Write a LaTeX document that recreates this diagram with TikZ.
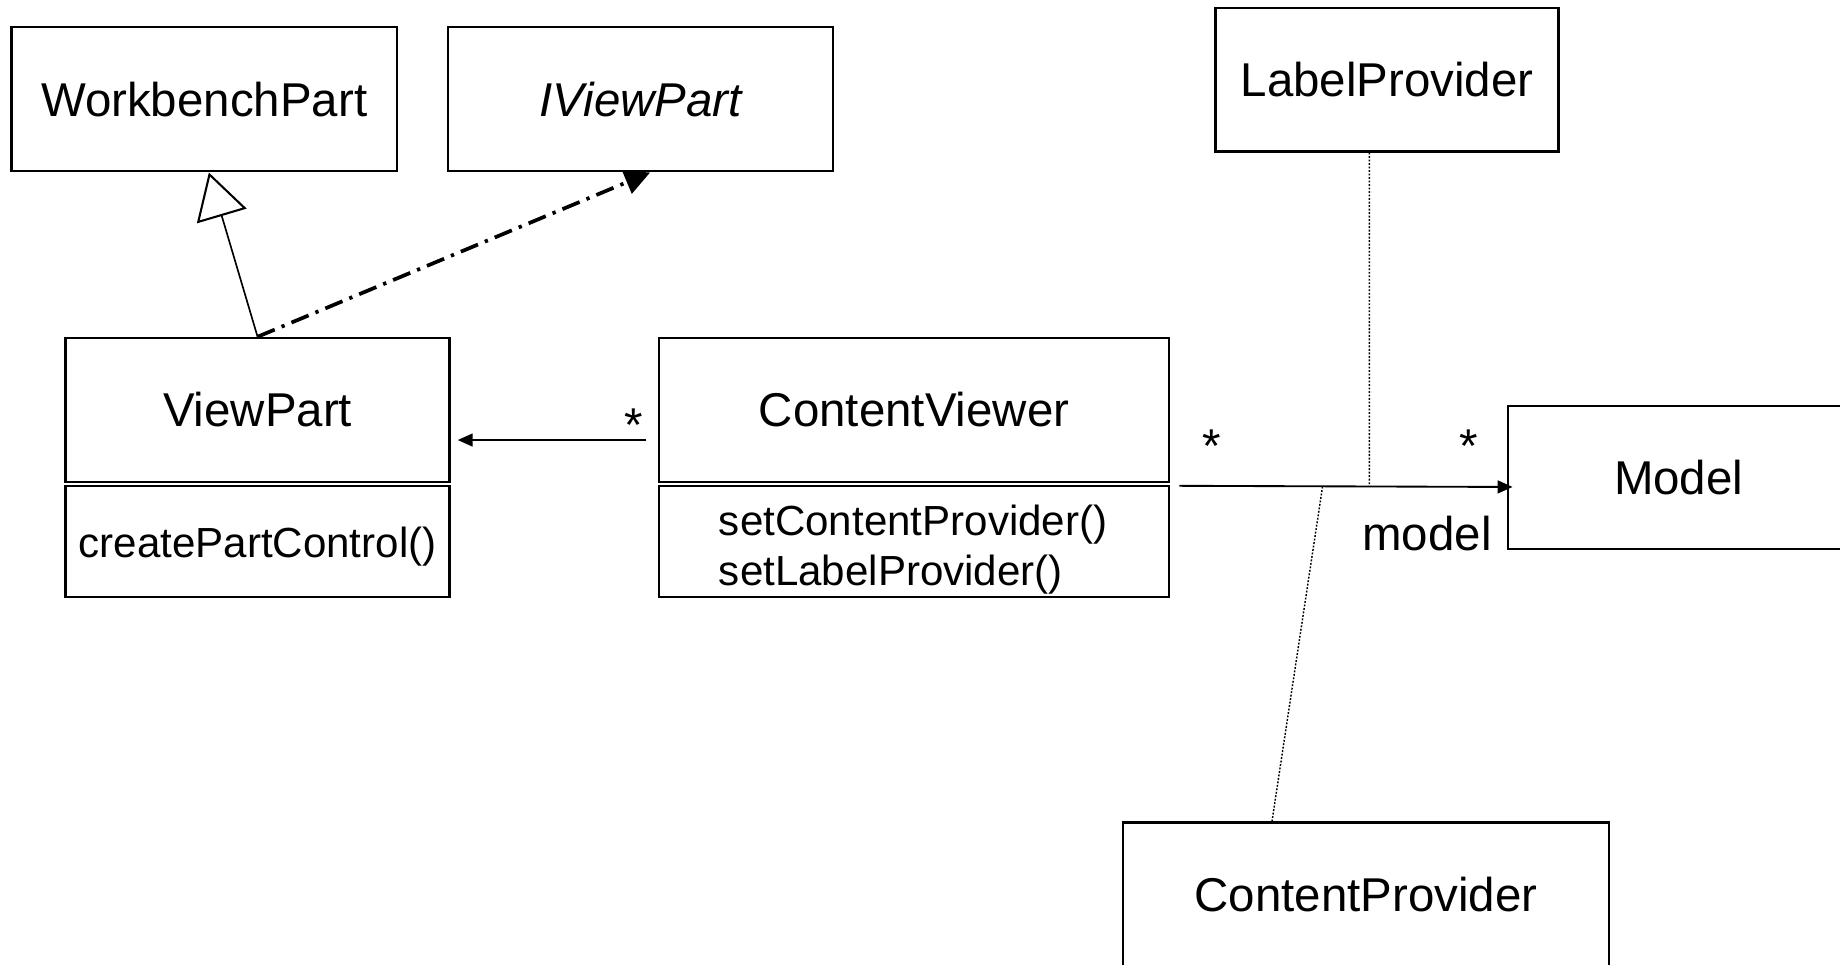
\documentclass[tikz,border=0pt]{standalone}
\usepackage{fontspec}
\setmainfont{Liberation Sans}
\usetikzlibrary{arrows.meta,calc}
\newcommand\clsfont{\fontsize{11.5pt}{13.8pt}\selectfont}
\newcommand\methfont{\fontsize{10.2pt}{12.1pt}\selectfont}
\begin{document}
\begin{tikzpicture}[x=0.01cm,y=-0.01cm,
 box/.style={draw,line width=0.55pt,inner sep=0pt,font=\clsfont},
 gen/.style={line width=0.4pt,-{Triangle[open,length=11pt,width=12.5pt,line width=0.5pt]}},
 real/.style={line width=0.9pt,dash pattern=on 4.5pt off 1.8pt on 0.8pt off 1.8pt,-{Triangle[length=6.1pt,width=5.9pt]}},
 assoc/.style={line width=0.45pt,-{Triangle[length=3.6pt,width=3.1pt]}},
 attach/.style={line width=0.35pt,dash pattern=on 0.45pt off 0.4pt},
 lbl/.style={font=\clsfont,inner sep=0pt}]
\useasboundingbox (0,0) rectangle (1568,822);
\clip (0,0) rectangle (1568,822);
\fill[white] (0,0) rectangle (1568,822);

\node[box,minimum width=3.28cm,minimum height=1.23cm] (WB) at (174,84.5) {WorkbenchPart};
\node[box,minimum width=3.28cm,minimum height=1.23cm] (IVP) at (546,84.5) {\itshape IViewPart};
\node[box,minimum width=2.92cm,minimum height=1.22cm] (LP) at (1182,68) {LabelProvider};
\node[box,minimum width=3.27cm,minimum height=1.225cm] (VP) at (219.5,349.25) {ViewPart};
\node[box,minimum width=3.27cm,minimum height=0.945cm,font=\methfont,text height=10pt,text depth=2.2pt] (VPm) at (219.5,461.75) {createPartControl()};
\node[box,minimum width=4.34cm,minimum height=1.225cm] (CV) at (779,349.25) {ContentViewer};
\node[box,minimum width=4.34cm,minimum height=0.945cm] (CVm) at (779,461.75) {};
\node[inner sep=0pt,font=\methfont,align=left,anchor=west] (CVmt) at (612,468) {setContentProvider()\\setLabelProvider()};
\node[box,minimum width=2.91cm,minimum height=1.22cm] (M) at (1430.5,407) {Model};
\node[box,minimum width=4.14cm,minimum height=1.23cm] (CP) at (1164,762.5) {ContentProvider};

\node[lbl,anchor=base] (s1) at (540,376.5) {*};
\node[lbl,anchor=base] (s2) at (1033,394) {*};
\node[lbl,anchor=base] (s3) at (1252,394) {*};
\node[lbl,anchor=base] (ml) at (1216,469.5) {model};

\draw[gen] (VP.north) -- ([xshift=0.04cm]WB.south);
\draw[real] (VP.north) -- ([xshift=0.08cm]IVP.south);
\draw[assoc] ([shift={(-10,25.75)}]CV.west) -- ([shift={(6,25.75)}]VP.east);
\draw[assoc] ([shift={(8,0.5)}]CVm.north east) -- ([shift={(5,8)}]M.west);
\coordinate (jLP) at (1167,415);
\coordinate (jCP) at (1127,415);
\draw[attach] ([xshift=-0.15cm]LP.south) -- (jLP);
\draw[attach] ([xshift=-0.8cm]CP.north) -- (jCP);
\end{tikzpicture}
\end{document}
